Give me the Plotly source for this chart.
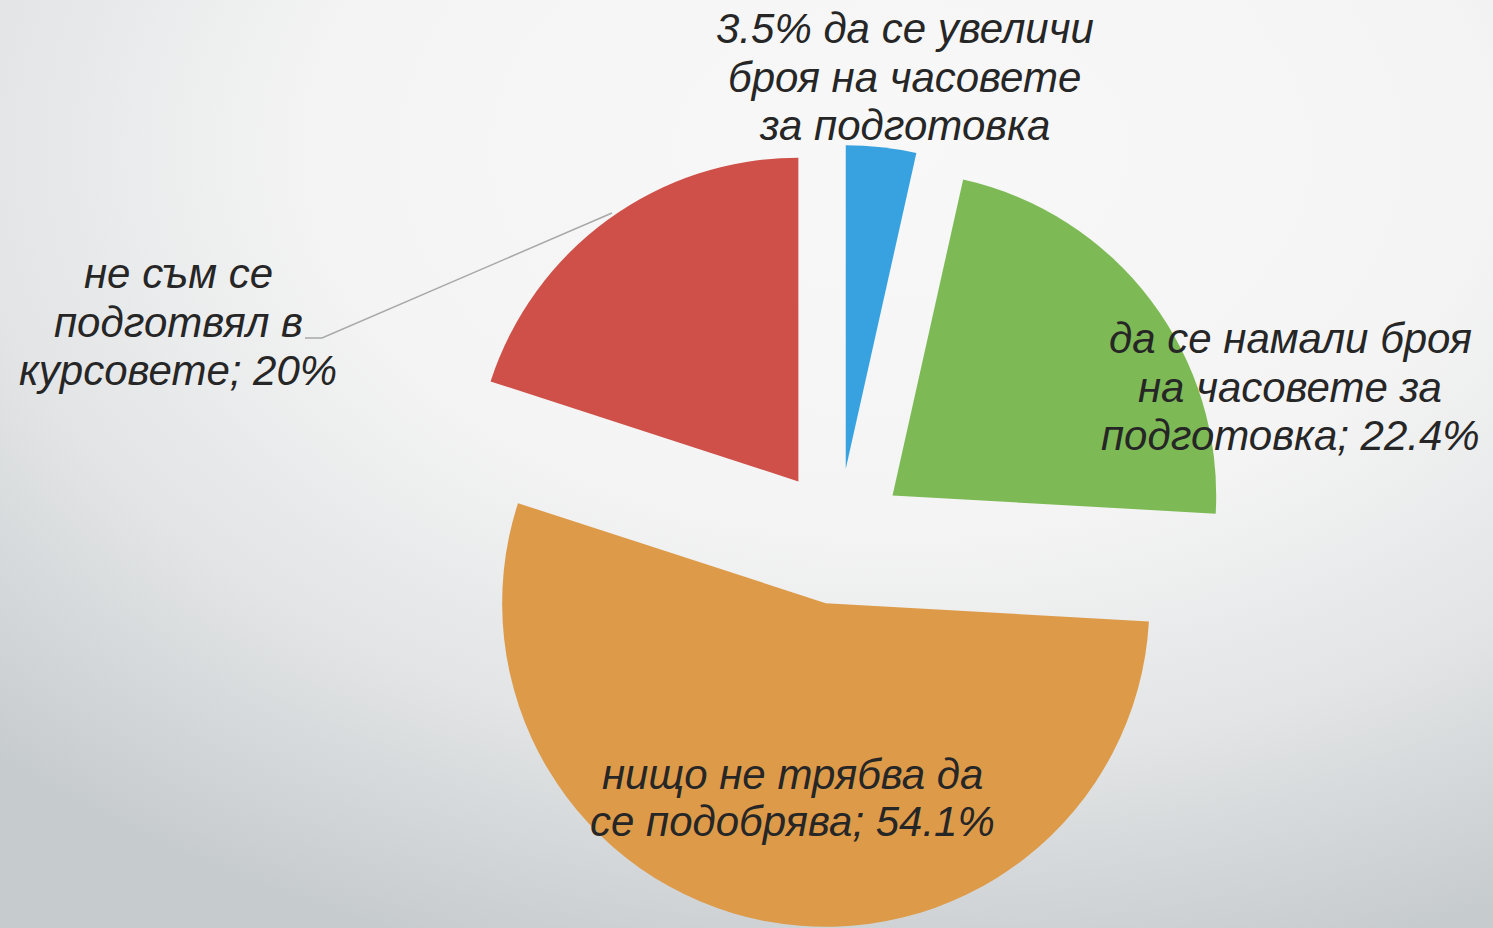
import base64
import plotly.graph_objects as go

# ---- data ----
categories = [
    "да се увеличи броя на часовете за подготовка",
    "да се намали броя на часовете за подготовка",
    "нищо не трябва да се подобрява",
    "не съм се подготвял в курсовете",
]
values = [3.5, 22.4, 54.1, 20.0]
colors = ["#37A2DF", "#7DBA55", "#DD9B4A", "#CF5048"]
label_lines = [
    ["3.5% да се увеличи", "броя на часовете", "за подготовка"],
    ["да се намали броя", "на часовете за", "подготовка; 22.4%"],
    ["нищо не трябва да", "се подобрява; 54.1%"],
    ["не съм се", "подготвял в", "курсовете; 20%"],
]

W, H = 1493, 928

# background gradient (SVG, inline data URI)
svg = f"""<svg xmlns='http://www.w3.org/2000/svg' width='{W}' height='{H}' viewBox='0 0 {W} {H}' preserveAspectRatio='none'>
<defs><radialGradient id='g' gradientUnits='userSpaceOnUse' cx='900' cy='150' r='1300'
 gradientTransform='translate(900 150) scale(1 0.654) translate(-900 -150)'>
<stop offset='0' stop-color='#f8f8f8'/>
<stop offset='0.45' stop-color='#f4f4f4'/>
<stop offset='0.72' stop-color='#e2e4e5'/>
<stop offset='1' stop-color='#c6cbce'/>
</radialGradient></defs>
<rect width='{W}' height='{H}' fill='url(#g)'/></svg>"""
bg_uri = "data:image/svg+xml;base64," + base64.b64encode(svg.encode()).decode()

fig = go.Figure(
    go.Pie(
        labels=categories,
        values=values,
        marker=dict(colors=colors, line=dict(width=0)),
        pull=[0.21] * 4,
        sort=False,
        direction="clockwise",
        rotation=0,
        textinfo="none",
        hoverinfo="label+percent",
        domain=dict(x=[0.25, 0.873], y=[0.0, 0.844]),
    )
)

FS = 42
font = dict(family="Liberation Sans, Arial, sans-serif", size=FS, color="#262626")
# (center x, baseline of first line, line step) in pixels
label_pos = [(905, 43, 48.5), (1290, 353, 48.5), (792, 789, 47), (178, 288, 48.5)]
for lines, (px, b0, step) in zip(label_lines, label_pos):
    for i, line in enumerate(lines):
        cy = b0 + i * step - 0.34 * FS
        fig.add_annotation(
            text=f"<i>{line}</i>", x=px / W, y=1 - cy / H, xref="paper", yref="paper",
            showarrow=False, font=font, align="center", xanchor="center", yanchor="middle",
        )

# leader line for the red slice label
fig.add_shape(
    type="path", xref="paper", yref="paper",
    path=f"M {305/W} {1-338/H} L {322/W} {1-338/H} L {612/W} {1-213/H}",
    line=dict(color="#a8a8a8", width=1.5),
)

fig.update_layout(
    width=W, height=H,
    margin=dict(l=0, r=0, t=0, b=0),
    paper_bgcolor="#e8eaeb",
    showlegend=False,
    images=[dict(source=bg_uri, xref="paper", yref="paper", x=0, y=1, sizex=1, sizey=1,
                 xanchor="left", yanchor="top", sizing="stretch", layer="below")],
)

fig.write_html("out.html", config={"displayModeBar": False},
               post_script="document.body.style.margin='0';")
